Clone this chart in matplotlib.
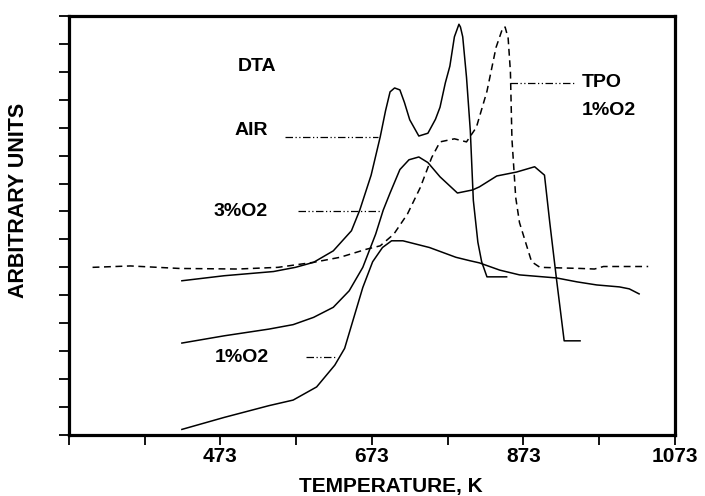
import matplotlib
matplotlib.use('Agg')
import matplotlib.pyplot as plt

plt.rcParams['font.family'] = ['Liberation Sans', 'DejaVu Sans']

# TPO 1%O2 (dashed)
tpo_t = [304, 354, 419, 496, 549, 596, 631, 666, 684, 702, 720, 737, 752, 763, 782, 798,
         811, 825, 837, 846, 849, 853, 856, 858, 863, 868, 876, 884, 895, 949, 967, 979, 1038]
tpo_y = [6.00, 6.05, 5.96, 5.94, 6.00, 6.18, 6.36, 6.65, 6.77, 7.19, 7.91, 8.86, 9.93, 10.49, 10.6, 10.49,
         11.01, 12.3, 13.87, 14.58, 14.6, 14.2, 13.0, 10.6, 8.5, 7.6, 6.9, 6.2, 6.0, 5.96, 5.94, 6.03, 6.03]

# DTA air
air_t = [422, 478, 543, 572, 596, 622, 646, 657, 672, 684, 691, 697, 703, 710, 716, 723, 735, 747,
         757, 763, 770, 776, 782, 788, 790, 793, 798, 803, 807, 813, 818, 825, 851]
air_y = [5.52, 5.70, 5.85, 6.00, 6.18, 6.59, 7.31, 8.05, 9.3, 10.67, 11.6, 12.28, 12.42, 12.35, 11.9, 11.28, 10.7, 10.8,
         11.3, 11.73, 12.6, 13.2, 14.25, 14.7, 14.6, 14.25, 12.8, 10.9, 8.4, 6.9, 6.2, 5.66, 5.66]

# DTA 3%O2
o3_t = [422, 478, 537, 569, 596, 622, 643, 661, 678, 688, 697, 710, 722, 735, 747, 763, 786, 806,
        815, 838, 864, 888, 901, 908, 917, 927, 948]
o3_y = [3.29, 3.55, 3.79, 3.95, 4.21, 4.57, 5.16, 6.0, 7.19, 8.05, 8.66, 9.5, 9.85, 9.95, 9.75, 9.24, 8.66, 8.77,
        8.88, 9.27, 9.41, 9.6, 9.3, 7.6, 5.55, 3.37, 3.37]

# DTA 1%O2
o1_t = [422, 478, 537, 569, 600, 624, 637, 648, 661, 674, 687, 699, 714, 749, 784, 802, 815, 842,
        868, 917, 944, 970, 1000, 1013, 1026]
o1_y = [0.2, 0.63, 1.05, 1.25, 1.72, 2.5, 3.1, 4.1, 5.28, 6.2, 6.71, 6.95, 6.95, 6.71, 6.36, 6.24, 6.16, 5.9,
        5.73, 5.62, 5.48, 5.37, 5.3, 5.23, 5.05]

xticks = [273, 373, 473, 573, 673, 773, 873, 973, 1073]
xticklabels = ['', '', '473', '', '673', '', '873', '', '1073']

fig = plt.figure(figsize=(7.05, 4.96), dpi=100)
ax = fig.add_axes([0.098, 0.123, 0.859, 0.845])

ax.plot(tpo_t, tpo_y, color='black', lw=1.1, linestyle=(0, (4.5, 3)))
ax.plot(air_t, air_y, color='black', lw=1.1)
ax.plot(o3_t, o3_y, color='black', lw=1.1)
ax.plot(o1_t, o1_y, color='black', lw=1.1)

# labels and leader lines
leader = (0, (6, 2, 1, 2, 1, 2))
fs = 14
ax.text(521, 13.2, 'DTA', ha='center', va='center', fontsize=fs, fontweight='bold')
ax.text(513, 10.9, 'AIR', ha='center', va='center', fontsize=fs, fontweight='bold')
ax.plot([558, 681], [10.65, 10.65], color='black', lw=0.9, linestyle=leader)
ax.text(500, 8.0, '3%O2', ha='center', va='center', fontsize=fs, fontweight='bold')
ax.plot([575, 687], [8.02, 8.02], color='black', lw=0.9, linestyle=leader)
ax.text(501, 2.78, '1%O2', ha='center', va='center', fontsize=fs, fontweight='bold')
ax.plot([586, 625], [2.78, 2.78], color='black', lw=0.9, linestyle=leader)
ax.text(950, 12.6, 'TPO', ha='left', va='center', fontsize=fs, fontweight='bold')
ax.text(950, 11.6, '1%O2', ha='left', va='center', fontsize=fs, fontweight='bold')
ax.plot([855, 943], [12.6, 12.6], color='black', lw=0.9, linestyle=leader)

ax.set_xlim(273, 1073)
ax.set_ylim(0, 15)
ax.set_xticks(xticks)
ax.set_xticklabels(xticklabels, fontsize=15, fontweight='bold')
ax.set_yticks(range(16))
ax.set_yticklabels([])
ax.tick_params(axis='both', direction='out', length=7, width=1.3, color='black', pad=2)
for s in ax.spines.values():
    s.set_linewidth(2.3)

ax.set_xlabel('TEMPERATURE, K', fontsize=15, fontweight='bold', va='center')
ax.xaxis.set_label_coords(0.531, -0.122)
ax.set_ylabel('ARBITRARY UNITS', fontsize=15.5, fontweight='bold', va='center')
ax.yaxis.set_label_coords(-0.083, 0.56)

fig.savefig('out.png', dpi=100)
